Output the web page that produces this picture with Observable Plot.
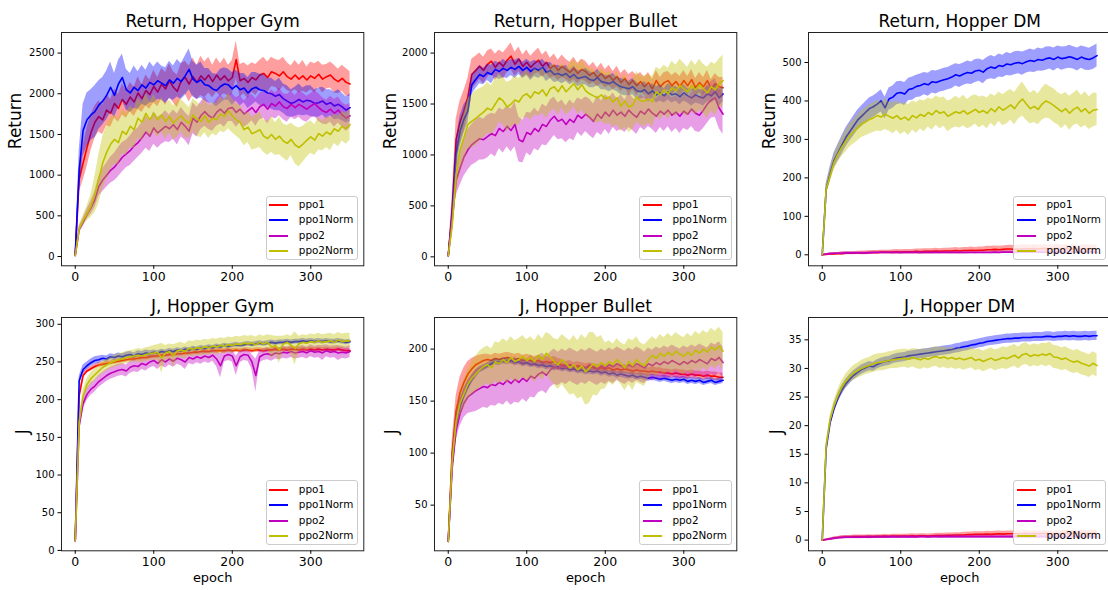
<!DOCTYPE html>
<html>
<head>
<meta charset="utf-8">
<script src="https://cdn.jsdelivr.net/npm/d3@7"></script>
<script src="https://cdn.jsdelivr.net/npm/@observablehq/plot@0.6"></script>
<style>
  body { margin: 0; background: #fff; font-family: "DejaVu Sans", sans-serif; }
  #fig { position: relative; width: 1108px; height: 590px; overflow: hidden; background: #fff; }
  .panel { position: absolute; }
  .panel svg { position: absolute; left: 0; top: 0; max-width: none; }
  .legend {
    position: absolute; width: 92.6px; height: 64.5px; box-sizing: border-box;
    background: rgba(255,255,255,0.8); border: 1px solid #cccccc; border-radius: 3px;
    font: 10.4px "DejaVu Sans", sans-serif; color: #000; padding-top: 0.3px;
  }
  .legend .row { height: 15.5px; line-height: 15.5px; white-space: nowrap; }
  .legend .sw { display: inline-block; width: 19px; height: 2px; margin: 0 10.6px 0 2.5px; vertical-align: middle; }
</style>
</head>
<body>
<div id="fig"></div>
<script>
// Training curves: mean per epoch (sampled every 5 epochs) and the spread around it.
const SERIES = ["ppo1", "ppo1Norm", "ppo2", "ppo2Norm"];
const COLORS = ["#ff0000", "#0000ff", "#bf00bf", "#bfbf00"];
const EPOCH_STEP = 5;
const X_TICKS = [0, 100, 200, 300];

// ---- Return, Hopper Gym ----
const rgPpo1 = [
20, 950, 1150, 1340, 1520, 1650, 1720, 1680, 1800, 1760,
1880, 1820, 1930, 1870, 1960, 1900, 2010, 1940, 2040, 1990,
2090, 2020, 2120, 2060, 2160, 2080, 2030, 2160, 2200, 2120,
2210, 2140, 2220, 2170, 2230, 2150, 2230, 2170, 2220, 2160,
2200, 2420, 2160, 2190, 2140, 2200, 2170, 2230, 2250, 2200,
2270, 2250, 2220, 2270, 2210, 2180, 2230, 2180, 2220, 2170,
2220, 2190, 2240, 2180, 2210, 2230, 2180, 2150, 2190, 2140,
2120];
const rgPpo1Sd = [
20, 160, 220, 240, 220, 200, 190, 180, 190, 170,
180, 170, 190, 170, 180, 180, 200, 170, 190, 180,
200, 180, 190, 200, 210, 190, 200, 210, 200, 220,
230, 210, 240, 220, 220, 200, 210, 200, 220, 190,
210, 230, 200, 190, 200, 180, 190, 180, 200, 190,
180, 170, 190, 180, 170, 160, 180, 170, 190, 160,
170, 180, 160, 170, 150, 160, 170, 150, 160, 170,
150];
const rgPpo1Norm = [
20, 1050, 1550, 1680, 1740, 1780, 1860, 1910, 1980, 2080,
1980, 2120, 2200, 2050, 2010, 2080, 2040, 2110, 2070, 2140,
2110, 2160, 2130, 2100, 2170, 2130, 2190, 2150, 2220, 2300,
2180, 2140, 2170, 2110, 2100, 2060, 2040, 2090, 2120, 2110,
2060, 2100, 2050, 2070, 2010, 2060, 2080, 2050, 2040, 2010,
2000, 1970, 1990, 1940, 1910, 1880, 1900, 1930, 1900, 1920,
1910, 1880, 1890, 1910, 1870, 1890, 1850, 1870, 1840, 1800,
1830];
const rgPpo1NormSd = [
20, 250, 320, 330, 310, 320, 300, 290, 300, 310,
270, 290, 290, 250, 240, 260, 230, 240, 220, 250,
220, 230, 210, 220, 230, 210, 230, 220, 240, 250,
220, 210, 220, 200, 210, 190, 200, 210, 200, 190,
200, 190, 200, 180, 190, 200, 180, 190, 200, 180,
190, 180, 200, 180, 190, 170, 180, 190, 170, 180,
190, 170, 180, 170, 180, 160, 170, 180, 170, 160,
170];
const rgPpo2 = [
10, 330, 420, 520, 600, 700, 860, 940, 1000, 1060,
1100, 1160, 1220, 1260, 1300, 1360, 1400, 1460, 1530, 1480,
1580, 1520, 1560, 1600, 1570, 1620, 1560, 1650, 1600, 1540,
1700, 1650, 1730, 1780, 1730, 1700, 1770, 1810, 1760, 1820,
1830, 1770, 1810, 1750, 1790, 1830, 1770, 1840, 1870, 1810,
1880, 1850, 1900, 1840, 1820, 1870, 1830, 1870, 1840, 1810,
1850, 1880, 1830, 1790, 1770, 1810, 1760, 1800, 1740, 1700,
1730];
const rgPpo2Sd = [
10, 40, 50, 60, 80, 100, 120, 140, 150, 160,
170, 180, 180, 170, 180, 190, 180, 190, 200, 190,
200, 190, 180, 190, 170, 180, 190, 180, 170, 180,
190, 180, 170, 180, 170, 160, 170, 180, 170, 160,
170, 180, 170, 160, 170, 160, 170, 160, 170, 180,
170, 160, 170, 160, 170, 160, 150, 160, 170, 160,
150, 160, 170, 160, 150, 160, 170, 160, 150, 160,
150];
const rgPpo2Norm = [
10, 340, 440, 530, 620, 760, 950, 1150, 1280, 1380,
1440, 1400, 1540, 1500, 1600, 1560, 1700, 1650, 1760, 1680,
1760, 1680, 1740, 1660, 1720, 1640, 1690, 1730, 1670, 1640,
1740, 1690, 1660, 1730, 1650, 1700, 1680, 1750, 1720, 1790,
1730, 1680, 1650, 1560, 1590, 1510, 1530, 1560, 1480, 1450,
1500, 1440, 1480, 1420, 1390, 1440, 1370, 1340, 1380, 1430,
1470, 1430, 1510, 1480, 1530, 1500, 1570, 1540, 1600, 1570,
1620];
const rgPpo2NormSd = [
10, 40, 60, 90, 140, 220, 300, 320, 330, 320,
300, 280, 270, 260, 250, 240, 250, 230, 240, 220,
230, 220, 210, 220, 200, 210, 220, 200, 210, 190,
200, 210, 200, 210, 200, 190, 200, 210, 200, 220,
210, 200, 210, 200, 190, 200, 210, 220, 200, 210,
220, 200, 230, 210, 220, 200, 230, 240, 220, 210,
200, 190, 200, 180, 190, 200, 180, 190, 180, 190,
190];

// ---- Return, Hopper Bullet ----
const rbPpo1 = [
10, 450, 1150, 1320, 1430, 1570, 1790, 1830, 1870, 1830,
1890, 1920, 1860, 1910, 1870, 1930, 1970, 1890, 1940, 1870,
1910, 1860, 1900, 1930, 1870, 1910, 1850, 1880, 1830, 1870,
1840, 1810, 1850, 1800, 1840, 1820, 1780, 1810, 1760, 1800,
1750, 1780, 1730, 1770, 1710, 1750, 1690, 1730, 1680, 1720,
1670, 1710, 1650, 1730, 1670, 1710, 1730, 1680, 1720, 1670,
1730, 1680, 1740, 1660, 1710, 1670, 1730, 1650, 1700, 1670,
1660];
const rbPpo1Sd = [
10, 150, 200, 210, 200, 180, 150, 140, 130, 130,
130, 120, 130, 120, 130, 120, 130, 120, 120, 110,
120, 110, 110, 120, 110, 110, 100, 110, 100, 110,
100, 100, 110, 100, 100, 100, 90, 100, 90, 100,
90, 100, 90, 100, 90, 90, 100, 90, 100, 90,
90, 100, 90, 100, 90, 100, 90, 100, 90, 100,
100, 90, 100, 90, 100, 90, 100, 90, 100, 90,
100];
const rbPpo1Norm = [
10, 400, 1000, 1230, 1350, 1430, 1690, 1740, 1790, 1770,
1810, 1790, 1840, 1820, 1850, 1830, 1860, 1840, 1870, 1830,
1860, 1820, 1850, 1830, 1860, 1810, 1830, 1790, 1800, 1780,
1800, 1760, 1790, 1750, 1760, 1770, 1740, 1730, 1760, 1720,
1710, 1700, 1720, 1690, 1670, 1660, 1650, 1670, 1630, 1620,
1640, 1600, 1630, 1590, 1610, 1580, 1620, 1590, 1600, 1570,
1610, 1580, 1560, 1590, 1570, 1560, 1600, 1580, 1620, 1560,
1600];
const rbPpo1NormSd = [
10, 120, 150, 150, 140, 120, 100, 90, 90, 80,
80, 90, 80, 80, 90, 80, 80, 90, 80, 80,
80, 90, 80, 80, 80, 90, 80, 80, 80, 80,
80, 70, 80, 80, 70, 80, 80, 70, 80, 80,
70, 80, 80, 70, 80, 80, 70, 80, 80, 70,
80, 80, 70, 80, 80, 70, 80, 80, 70, 80,
80, 70, 80, 80, 70, 80, 80, 70, 80, 80,
80];
const rbPpo2 = [
10, 350, 750, 870, 980, 1050, 1100, 1130, 1160, 1150,
1180, 1210, 1190, 1260, 1230, 1280, 1240, 1300, 1150, 1130,
1220, 1200, 1260, 1230, 1300, 1280, 1340, 1380, 1330, 1350,
1300, 1350, 1320, 1390, 1360, 1400, 1370, 1330, 1400, 1360,
1420, 1380, 1440, 1390, 1420, 1380, 1440, 1400, 1370, 1430,
1400, 1450, 1410, 1380, 1430, 1400, 1440, 1390, 1420, 1380,
1430, 1400, 1450, 1410, 1390, 1440, 1500, 1540, 1560, 1460,
1400];
const rbPpo2Sd = [
10, 100, 150, 170, 190, 200, 200, 210, 210, 200,
210, 200, 210, 200, 210, 200, 210, 220, 220, 210,
200, 210, 200, 190, 200, 190, 200, 190, 180, 190,
180, 190, 180, 170, 180, 170, 180, 170, 180, 170,
170, 180, 170, 160, 170, 160, 170, 160, 170, 160,
160, 170, 160, 170, 160, 170, 160, 170, 160, 170,
170, 160, 170, 180, 170, 180, 190, 180, 190, 200,
200];
const rbPpo2Norm = [
10, 300, 800, 1050, 1170, 1300, 1330, 1360, 1390, 1420,
1460, 1440, 1500, 1560, 1530, 1470, 1500, 1540, 1520, 1580,
1600, 1560, 1620, 1600, 1640, 1580, 1650, 1670, 1620, 1680,
1620, 1660, 1700, 1640, 1690, 1630, 1600, 1580, 1560, 1590,
1550, 1570, 1520, 1560, 1480, 1530, 1470, 1490, 1570, 1530,
1530, 1550, 1520, 1620, 1590, 1640, 1600, 1660, 1630, 1680,
1650, 1620, 1680, 1640, 1690, 1650, 1610, 1670, 1640, 1700,
1730];
const rbPpo2NormSd = [
10, 100, 180, 220, 240, 250, 260, 270, 260, 250,
250, 240, 250, 240, 230, 240, 230, 240, 230, 220,
230, 220, 230, 220, 230, 220, 230, 220, 230, 220,
230, 240, 230, 240, 250, 240, 250, 260, 250, 260,
250, 260, 250, 260, 250, 260, 250, 240, 250, 240,
250, 240, 250, 240, 250, 240, 250, 260, 250, 260,
250, 240, 250, 240, 250, 240, 250, 240, 250, 240,
250];

// ---- Return, Hopper DM ----
const rdPpo1 = [
0, 1, 2, 2, 3, 3, 4, 4, 4, 5,
5, 5, 6, 6, 6, 7, 7, 7, 7, 8,
7, 8, 8, 8, 9, 8, 9, 9, 9, 10,
9, 10, 10, 10, 11, 10, 11, 11, 12, 11,
12, 12, 13, 13, 14, 13, 14, 15, 15, 14,
15, 15, 16, 15, 16, 15, 16, 16, 15, 16,
16, 15, 16, 15, 16, 15, 15, 16, 15, 15,
15];
const rdPpo1Sd = [
0, 2, 3, 3, 3, 4, 4, 4, 4, 4,
5, 5, 5, 5, 5, 5, 5, 5, 6, 6,
6, 6, 6, 6, 6, 7, 7, 7, 7, 7,
7, 7, 7, 8, 8, 8, 8, 8, 8, 8,
8, 8, 9, 9, 9, 9, 9, 9, 10, 10,
10, 10, 10, 10, 10, 10, 10, 10, 10, 10,
10, 10, 10, 10, 10, 10, 10, 10, 10, 10,
10];
const rdPpo1Norm = [
0, 170, 210, 245, 265, 285, 305, 320, 335, 350,
360, 370, 380, 385, 392, 400, 382, 405, 410, 420,
422, 418, 430, 432, 438, 440, 445, 442, 450, 448,
452, 455, 458, 462, 468, 465, 470, 474, 472, 478,
480, 475, 484, 488, 485, 492, 490, 496, 494, 498,
500, 497, 502, 505, 503, 508, 506, 510, 512, 508,
514, 510, 512, 515, 512, 508, 514, 510, 508, 512,
518];
const rdPpo1NormSd = [
0, 15, 18, 20, 22, 24, 25, 25, 26, 26,
27, 27, 28, 28, 28, 29, 28, 29, 29, 30,
29, 30, 29, 30, 29, 30, 29, 30, 29, 30,
29, 30, 29, 30, 29, 30, 29, 30, 29, 30,
29, 30, 29, 30, 29, 30, 29, 30, 29, 30,
29, 30, 29, 30, 29, 30, 29, 30, 29, 30,
29, 30, 29, 30, 29, 30, 29, 30, 29, 30,
30];
const rdPpo2 = [
0, 2, 3, 4, 4, 4, 5, 5, 5, 5,
5, 5, 5, 6, 6, 6, 6, 6, 6, 6,
6, 6, 6, 6, 6, 6, 6, 6, 6, 6,
6, 6, 6, 6, 6, 6, 6, 6, 6, 6,
6, 6, 6, 6, 7, 6, 7, 7, 7, 6,
7, 7, 7, 7, 7, 7, 7, 7, 7, 7,
7, 7, 7, 7, 7, 7, 7, 7, 7, 7,
7];
const rdPpo2Sd = [
0, 1, 2, 2, 2, 3, 3, 3, 3, 3,
3, 3, 3, 3, 3, 3, 3, 3, 3, 3,
3, 3, 3, 3, 3, 3, 3, 3, 3, 3,
3, 3, 3, 3, 3, 3, 3, 3, 3, 3,
3, 3, 3, 3, 3, 3, 3, 3, 3, 3,
3, 3, 3, 3, 3, 3, 3, 3, 3, 3,
3, 3, 3, 3, 3, 3, 3, 3, 3, 3,
3];
const rdPpo2Norm = [
0, 170, 205, 240, 262, 280, 295, 310, 320, 330,
340, 345, 352, 356, 362, 358, 366, 360, 355, 362,
352, 358, 350, 362, 356, 365, 360, 370, 364, 375,
368, 372, 360, 366, 372, 368, 375, 366, 372, 378,
370, 375, 368, 380, 372, 385, 376, 382, 390, 380,
395, 405, 392, 380, 386, 378, 392, 400, 395, 388,
380, 372, 380, 368, 378, 384, 372, 380, 368, 376,
378];
const rdPpo2NormSd = [
0, 15, 18, 20, 22, 25, 28, 30, 32, 34,
35, 36, 38, 38, 40, 38, 40, 38, 40, 38,
40, 38, 40, 38, 40, 38, 40, 38, 40, 38,
40, 38, 40, 38, 40, 38, 40, 38, 40, 38,
40, 38, 40, 38, 40, 38, 40, 42, 40, 42,
42, 44, 42, 40, 42, 40, 42, 44, 42, 44,
42, 44, 42, 44, 42, 44, 42, 44, 42, 44,
42];

// ---- J, Hopper Gym ----
const jgPpo1 = [
13, 205, 232, 238, 241, 244, 246, 247, 248, 249,
250, 251, 252, 253, 254, 254, 255, 256, 256, 257,
258, 258, 259, 259, 260, 260, 261, 261, 262, 262,
263, 263, 264, 264, 264, 265, 265, 265, 265, 266,
265, 266, 265, 266, 266, 265, 266, 266, 265, 266,
266, 267, 266, 267, 266, 267, 267, 266, 267, 266,
267, 266, 267, 266, 267, 266, 266, 267, 266, 265,
265];
const jgPpo1Sd = [
0, 5, 4, 3, 3, 3, 3, 3, 3, 3,
3, 3, 3, 3, 3, 3, 3, 3, 3, 3,
3, 3, 3, 3, 3, 3, 3, 3, 3, 3,
3, 3, 3, 3, 3, 3, 3, 3, 3, 3,
3, 3, 3, 3, 3, 3, 3, 3, 3, 3,
3, 3, 3, 3, 3, 3, 3, 3, 3, 3,
3, 3, 3, 3, 3, 3, 3, 3, 3, 3,
3];
const jgPpo1Norm = [
13, 225, 240, 245, 249, 252, 253, 255, 254, 257,
256, 258, 257, 259, 260, 258, 261, 260, 262, 261,
263, 262, 264, 263, 265, 264, 266, 265, 267, 266,
268, 267, 269, 268, 270, 269, 271, 270, 272, 271,
272, 273, 272, 273, 274, 273, 274, 275, 274, 275,
276, 275, 276, 276, 277, 276, 277, 277, 278, 277,
278, 277, 278, 277, 278, 277, 277, 278, 277, 276,
277];
const jgPpo1NormSd = [
0, 6, 6, 5, 5, 5, 5, 4, 4, 4,
4, 4, 4, 4, 4, 4, 4, 4, 4, 4,
3, 3, 3, 3, 3, 3, 3, 3, 3, 3,
3, 3, 3, 3, 3, 3, 3, 3, 3, 3,
3, 3, 3, 3, 3, 3, 3, 3, 3, 3,
3, 3, 3, 3, 3, 3, 3, 3, 3, 3,
3, 3, 3, 3, 3, 3, 3, 3, 3, 3,
3];
const jgPpo2 = [
13, 165, 195, 207, 214, 218, 224, 228, 232, 235,
237, 239, 240, 238, 243, 245, 244, 248, 246, 250,
252, 248, 253, 250, 254, 251, 255, 253, 250, 256,
254, 257, 255, 258, 256, 259, 254, 245, 258, 260,
258, 245, 257, 260, 259, 250, 232, 257, 260, 261,
259, 262, 261, 263, 262, 264, 262, 263, 264, 262,
265, 263, 264, 262, 265, 263, 264, 262, 263, 262,
264];
const jgPpo2Sd = [
0, 8, 8, 8, 8, 8, 8, 8, 8, 8,
8, 8, 8, 8, 8, 8, 8, 8, 8, 8,
8, 8, 8, 8, 8, 8, 8, 8, 10, 8,
8, 8, 8, 8, 8, 8, 10, 16, 8, 8,
8, 13, 8, 8, 8, 10, 22, 8, 8, 8,
8, 8, 8, 8, 8, 8, 8, 8, 8, 8,
8, 8, 8, 10, 8, 8, 8, 10, 8, 8,
8];
const jgPpo2Norm = [
13, 170, 205, 220, 228, 233, 238, 243, 246, 249,
251, 253, 254, 256, 257, 258, 259, 258, 260, 261,
262, 263, 255, 262, 264, 258, 265, 266, 264, 268,
267, 269, 268, 270, 269, 271, 270, 272, 271, 273,
272, 274, 273, 275, 274, 275, 273, 276, 274, 276,
270, 272, 266, 274, 276, 272, 268, 274, 276, 275,
277, 276, 278, 276, 277, 278, 276, 279, 277, 278,
278];
const jgPpo2NormSd = [
0, 8, 8, 8, 8, 8, 8, 8, 8, 8,
8, 8, 8, 8, 8, 8, 9, 9, 9, 9,
10, 10, 20, 10, 10, 15, 10, 10, 10, 10,
10, 10, 10, 10, 10, 10, 10, 10, 10, 10,
10, 10, 10, 10, 10, 10, 10, 10, 10, 10,
15, 12, 18, 10, 10, 12, 22, 10, 10, 10,
10, 10, 10, 10, 10, 10, 10, 10, 10, 10,
10];

// ---- J, Hopper Bullet ----
const jbPpo1 = [
15, 100, 140, 158, 168, 176, 181, 185, 187, 189,
190, 189, 191, 190, 191, 192, 191, 190, 191, 189,
190, 189, 188, 189, 187, 188, 187, 188, 186, 185,
184, 185, 183, 184, 183, 182, 183, 182, 181, 182,
181, 182, 180, 181, 180, 181, 180, 179, 180, 179,
179, 178, 179, 178, 178, 177, 177, 176, 177, 176,
176, 175, 176, 175, 175, 174, 175, 174, 174, 173,
173];
const jbPpo1Sd = [
0, 12, 15, 15, 14, 12, 10, 8, 7, 6,
5, 5, 5, 5, 5, 5, 5, 5, 5, 5,
5, 5, 5, 5, 5, 5, 5, 5, 5, 5,
4, 4, 4, 4, 4, 4, 4, 4, 4, 4,
4, 4, 4, 4, 4, 4, 4, 4, 4, 4,
4, 4, 4, 4, 4, 4, 4, 4, 4, 4,
4, 4, 4, 4, 4, 4, 4, 4, 4, 4,
4];
const jbPpo1Norm = [
15, 90, 128, 145, 156, 164, 171, 176, 180, 182,
184, 186, 188, 187, 189, 188, 189, 187, 188, 186,
187, 185, 186, 184, 185, 183, 184, 182, 183, 181,
182, 180, 181, 179, 180, 178, 179, 178, 179, 177,
178, 176, 177, 175, 176, 175, 174, 175, 173, 174,
173, 172, 173, 172, 171, 172, 171, 170, 171, 170,
171, 169, 170, 169, 170, 168, 169, 170, 168, 169,
170];
const jbPpo1NormSd = [
0, 8, 8, 7, 6, 5, 4, 4, 3, 3,
3, 3, 3, 3, 3, 3, 3, 3, 3, 3,
3, 3, 3, 3, 3, 3, 3, 3, 3, 3,
3, 3, 3, 3, 3, 3, 3, 3, 3, 3,
3, 3, 3, 3, 3, 3, 3, 3, 3, 3,
3, 3, 3, 3, 3, 3, 3, 3, 3, 3,
3, 3, 3, 3, 3, 3, 3, 3, 3, 3,
3];
const jbPpo2 = [
15, 85, 122, 138, 148, 154, 157, 160, 162, 164,
163, 166, 165, 168, 166, 170, 167, 171, 168, 172,
169, 174, 172, 176, 178, 175, 180, 183, 181, 184,
182, 185, 183, 181, 184, 182, 185, 183, 181, 184,
182, 185, 183, 186, 184, 182, 185, 183, 186, 184,
182, 186, 184, 187, 185, 188, 186, 189, 187, 185,
188, 186, 189, 187, 190, 188, 186, 191, 189, 192,
187];
const jbPpo2Sd = [
0, 8, 10, 12, 14, 16, 18, 20, 20, 20,
20, 20, 20, 20, 20, 20, 21, 22, 20, 20,
20, 20, 19, 18, 18, 18, 17, 17, 16, 16,
16, 16, 16, 16, 16, 16, 16, 16, 16, 16,
16, 16, 16, 16, 16, 16, 16, 16, 16, 16,
15, 15, 15, 15, 15, 15, 15, 15, 15, 15,
15, 15, 15, 15, 15, 15, 15, 15, 15, 15,
15];
const jbPpo2Norm = [
15, 92, 130, 148, 157, 166, 172, 176, 180, 183,
185, 182, 188, 186, 190, 187, 192, 188, 190, 193,
189, 192, 188, 194, 190, 196, 192, 188, 185, 190,
186, 182, 185, 180, 184, 178, 182, 186, 183, 187,
184, 188, 185, 190, 186, 182, 188, 184, 190, 186,
184, 190, 194, 191, 196, 193, 197, 194, 198, 195,
193, 197, 194, 199, 196, 200, 197, 202, 199, 203,
198];
const jbPpo2NormSd = [
0, 8, 10, 12, 14, 15, 16, 17, 18, 18,
18, 18, 19, 20, 20, 20, 20, 20, 20, 20,
20, 20, 20, 20, 20, 20, 22, 22, 24, 24,
25, 26, 28, 28, 30, 32, 34, 30, 28, 26,
22, 20, 20, 20, 20, 22, 22, 24, 22, 20,
20, 18, 18, 18, 18, 18, 18, 18, 18, 18,
18, 18, 18, 18, 18, 18, 18, 18, 18, 18,
18];

// ---- J, Hopper DM ----
const jdPpo1 = [
0, 0.1, 0.2, 0.35, 0.45, 0.5, 0.55, 0.55, 0.6, 0.6,
0.6, 0.6, 0.65, 0.6, 0.65, 0.65, 0.7, 0.65, 0.7, 0.7,
0.7, 0.7, 0.7, 0.75, 0.7, 0.75, 0.75, 0.7, 0.75, 0.8,
0.8, 0.8, 0.85, 0.85, 0.9, 0.9, 0.9, 0.95, 0.95, 1.0,
1.0, 1.0, 1.05, 1.0, 1.05, 1.1, 1.05, 1.1, 1.1, 1.1,
1.1, 1.1, 1.15, 1.1, 1.15, 1.1, 1.15, 1.15, 1.1, 1.15,
1.1, 1.15, 1.2, 1.15, 1.2, 1.15, 1.2, 1.2, 1.15, 1.2,
1.2];
const jdPpo1Sd = [
0, 0.1, 0.15, 0.2, 0.2, 0.25, 0.25, 0.25, 0.3, 0.3,
0.3, 0.3, 0.3, 0.3, 0.3, 0.3, 0.3, 0.3, 0.3, 0.3,
0.3, 0.3, 0.35, 0.35, 0.35, 0.35, 0.35, 0.35, 0.35, 0.4,
0.4, 0.4, 0.4, 0.4, 0.4, 0.4, 0.45, 0.45, 0.45, 0.45,
0.45, 0.45, 0.5, 0.5, 0.5, 0.5, 0.5, 0.5, 0.5, 0.5,
0.5, 0.5, 0.5, 0.5, 0.5, 0.5, 0.5, 0.5, 0.5, 0.5,
0.5, 0.5, 0.5, 0.5, 0.5, 0.5, 0.5, 0.5, 0.5, 0.5,
0.5];
const jdPpo1Norm = [
0, 16, 20.5, 23, 24.8, 26.2, 27.3, 28.1, 28.8, 29.3,
29.8, 30.1, 30.4, 30.3, 30.7, 31.0, 31.2, 31.3, 31.6, 31.8,
31.9, 32.0, 32.2, 32.3, 32.4, 32.5, 32.6, 32.7, 32.8, 32.9,
33.0, 33.1, 33.2, 33.3, 33.5, 33.6, 33.8, 33.9, 34.1, 34.2,
34.4, 34.5, 34.7, 34.8, 34.9, 35.0, 35.1, 35.2, 35.2, 35.3,
35.3, 35.4, 35.4, 35.4, 35.5, 35.5, 35.5, 35.6, 35.6, 35.5,
35.6, 35.6, 35.7, 35.6, 35.7, 35.6, 35.6, 35.7, 35.6, 35.7,
35.7];
const jdPpo1NormSd = [
0, 0.6, 0.7, 0.8, 0.8, 0.8, 0.8, 0.8, 0.8, 0.8,
0.8, 0.8, 0.8, 0.8, 0.8, 0.8, 0.8, 0.8, 0.8, 0.8,
0.8, 0.8, 0.8, 0.8, 0.8, 0.8, 0.8, 0.8, 0.8, 0.8,
0.8, 0.8, 0.8, 0.8, 0.8, 0.8, 0.8, 0.8, 0.8, 0.8,
0.8, 0.8, 0.8, 0.8, 0.8, 0.8, 0.8, 0.8, 0.8, 0.8,
0.8, 0.8, 0.8, 0.8, 0.8, 0.8, 0.8, 0.8, 0.8, 0.8,
0.8, 0.8, 0.8, 0.8, 0.8, 0.8, 0.8, 0.8, 0.8, 0.8,
0.8];
const jdPpo2 = [
0, 0.1, 0.2, 0.3, 0.4, 0.45, 0.5, 0.5, 0.5, 0.5,
0.5, 0.55, 0.5, 0.55, 0.55, 0.55, 0.55, 0.55, 0.6, 0.55,
0.55, 0.6, 0.55, 0.6, 0.55, 0.6, 0.6, 0.55, 0.6, 0.6,
0.6, 0.6, 0.6, 0.6, 0.6, 0.6, 0.6, 0.6, 0.6, 0.6,
0.6, 0.6, 0.6, 0.6, 0.6, 0.6, 0.6, 0.6, 0.6, 0.6,
0.6, 0.6, 0.6, 0.6, 0.6, 0.6, 0.6, 0.6, 0.6, 0.6,
0.6, 0.6, 0.6, 0.6, 0.6, 0.6, 0.6, 0.6, 0.6, 0.6,
0.6];
const jdPpo2Sd = [
0, 0.1, 0.15, 0.2, 0.2, 0.25, 0.25, 0.25, 0.25, 0.25,
0.25, 0.25, 0.25, 0.25, 0.25, 0.25, 0.25, 0.25, 0.25, 0.25,
0.25, 0.25, 0.25, 0.25, 0.25, 0.25, 0.25, 0.25, 0.25, 0.25,
0.3, 0.3, 0.3, 0.3, 0.3, 0.3, 0.3, 0.3, 0.3, 0.3,
0.3, 0.3, 0.3, 0.3, 0.3, 0.3, 0.3, 0.3, 0.3, 0.3,
0.3, 0.3, 0.3, 0.3, 0.3, 0.3, 0.3, 0.3, 0.3, 0.3,
0.3, 0.3, 0.3, 0.3, 0.3, 0.3, 0.3, 0.3, 0.3, 0.3,
0.3];
const jdPpo2Norm = [
0, 16.5, 21, 23.5, 25.3, 26.8, 27.8, 28.6, 29.2, 29.6,
30.0, 30.3, 30.5, 30.8, 31.0, 31.1, 31.2, 31.4, 31.5, 31.6,
31.7, 31.8, 31.6, 31.9, 31.7, 31.5, 31.8, 31.6, 31.9, 32.1,
31.8, 32.0, 31.7, 31.9, 31.6, 31.8, 31.5, 31.7, 31.9, 31.4,
31.6, 31.2, 31.5, 31.8, 31.4, 31.6, 31.9, 31.7, 32.0, 32.3,
31.8, 32.4, 32.6, 32.1, 32.4, 32.2, 32.5, 32.3, 32.6, 32.0,
31.9, 31.6, 31.8, 31.4, 31.1, 31.3, 30.9, 30.7, 30.4, 30.9,
30.5];
const jdPpo2NormSd = [
0, 0.6, 0.8, 0.9, 1.0, 1.1, 1.2, 1.2, 1.3, 1.3,
1.4, 1.4, 1.4, 1.5, 1.5, 1.5, 1.5, 1.5, 1.5, 1.6,
1.6, 1.6, 1.6, 1.6, 1.7, 1.7, 1.7, 1.7, 1.7, 1.7,
1.8, 1.8, 1.8, 1.8, 1.8, 1.8, 1.8, 1.8, 1.8, 1.8,
1.8, 1.8, 1.8, 1.8, 1.8, 1.8, 1.9, 1.9, 1.9, 1.9,
1.9, 1.9, 1.9, 1.9, 1.9, 1.9, 1.9, 2.0, 2.0, 2.0,
2.0, 2.0, 2.0, 2.0, 2.0, 2.0, 2.0, 2.0, 2.0, 2.0,
2.0];

// Panel contents: titles, axis labels, y domains and ticks.
const panels = [
  {title: "Return, Hopper Gym", ylabel: "Return", yDomain: [-114, 2753], yTicks: [0, 500, 1000, 1500, 2000, 2500],
   means: [rgPpo1, rgPpo1Norm, rgPpo2, rgPpo2Norm], sds: [rgPpo1Sd, rgPpo1NormSd, rgPpo2Sd, rgPpo2NormSd]},
  {title: "Return, Hopper Bullet", ylabel: "Return", yDomain: [-88, 2202], yTicks: [0, 500, 1000, 1500, 2000],
   means: [rbPpo1, rbPpo1Norm, rbPpo2, rbPpo2Norm], sds: [rbPpo1Sd, rbPpo1NormSd, rbPpo2Sd, rbPpo2NormSd]},
  {title: "Return, Hopper DM", ylabel: "Return", yDomain: [-28.6, 578], yTicks: [0, 100, 200, 300, 400, 500],
   means: [rdPpo1, rdPpo1Norm, rdPpo2, rdPpo2Norm], sds: [rdPpo1Sd, rdPpo1NormSd, rdPpo2Sd, rdPpo2NormSd]},
  {title: "J, Hopper Gym", ylabel: "J", xlabel: "epoch", yDomain: [-0.5, 309], yTicks: [0, 50, 100, 150, 200, 250, 300],
   means: [jgPpo1, jgPpo1Norm, jgPpo2, jgPpo2Norm], sds: [jgPpo1Sd, jgPpo1NormSd, jgPpo2Sd, jgPpo2NormSd]},
  {title: "J, Hopper Bullet", ylabel: "J", xlabel: "epoch", yDomain: [6.1, 230.4], yTicks: [50, 100, 150, 200],
   means: [jbPpo1, jbPpo1Norm, jbPpo2, jbPpo2Norm], sds: [jbPpo1Sd, jbPpo1NormSd, jbPpo2Sd, jbPpo2NormSd]},
  {title: "J, Hopper DM", ylabel: "J", xlabel: "epoch", yDomain: [-1.87, 38.9], yTicks: [0, 5, 10, 15, 20, 25, 30, 35],
   means: [jdPpo1, jdPpo1Norm, jdPpo2, jdPpo2Norm], sds: [jdPpo1Sd, jdPpo1NormSd, jdPpo2Sd, jdPpo2NormSd]}
];

// Grid layout (pixels): frame origins, frame size, margins, y-label offsets.
const layout = {
  colLeft: [60.7, 434.3, 808.3], rowTop: [31.7, 316.7],
  frameW: 302.3, frameH: 233.3,
  mL: 62, mR: 10, mT: 34, mB: 40,
  ylabelDx: [-46, -44, -39, -38.5, -42.6, -31.6]
};

const fig = document.getElementById("fig");

panels.forEach((p, k) => {
  const row = Math.floor(k / 3), col = k % 3;
  const {mL, mR, mT, mB, frameW, frameH} = layout;
  const width = mL + frameW + mR, height = mT + frameH + mB;

  const rows = SERIES.map((s, j) => p.means[j].map((m, i) => ({
    series: s, epoch: i * EPOCH_STEP, mean: m, lo: m - p.sds[j][i], hi: m + p.sds[j][i]
  })));

  const marks = [];
  rows.forEach((d, j) => {
    marks.push(Plot.areaY(d, {x: "epoch", y1: "lo", y2: "hi", fill: COLORS[j], fillOpacity: 0.38}));
    marks.push(Plot.lineY(d, {x: "epoch", y: "mean", stroke: COLORS[j], strokeWidth: 1.6}));
  });
  marks.push(
    Plot.frame({stroke: "#222", strokeWidth: 1}),
    Plot.axisX({ticks: X_TICKS, tickSize: 3.5, tickPadding: 2.5, fontSize: 12.5, label: null, tickFormat: d => `${d}`}),
    Plot.axisY({ticks: p.yTicks, tickSize: 3.5, tickPadding: 3.5, fontSize: 10, label: null, tickFormat: d => `${d}`}),
    Plot.text([p.title], {text: d => d, frameAnchor: "top", lineAnchor: "middle", dy: -10.5, fontSize: 17}),
    Plot.text([p.ylabel], {text: d => d, frameAnchor: "left", lineAnchor: "middle", rotate: -90, dx: layout.ylabelDx[k], fontSize: 17})
  );
  if (p.xlabel) marks.push(Plot.text([p.xlabel], {text: d => d, frameAnchor: "bottom", lineAnchor: "middle", dy: 27.5, fontSize: 13}));

  const svg = Plot.plot({
    width, height,
    marginLeft: mL, marginRight: mR, marginTop: mT, marginBottom: mB,
    x: {domain: [-17.5, 367.5]},
    y: {domain: p.yDomain},
    style: {background: "transparent", overflow: "visible", fontFamily: "DejaVu Sans, sans-serif", color: "#000"},
    marks
  });

  const box = document.createElement("div");
  box.className = "panel";
  box.style.left = (layout.colLeft[col] - mL) + "px";
  box.style.top = (layout.rowTop[row] - mT) + "px";
  box.style.width = width + "px";
  box.style.height = height + "px";
  box.appendChild(svg);

  // Legend in the lower-right corner of the frame
  const leg = document.createElement("div");
  leg.className = "legend";
  leg.style.left = (mL + frameW - 4.7 - 92.6) + "px";
  leg.style.top = (mT + frameH - 5 - 64.5) + "px";
  SERIES.forEach((s, j) => {
    const r = document.createElement("div");
    r.className = "row";
    r.innerHTML = `<span class="sw" style="background:${COLORS[j]}"></span>${s}`;
    leg.appendChild(r);
  });
  box.appendChild(leg);
  fig.appendChild(box);
});
</script>
</body>
</html>
